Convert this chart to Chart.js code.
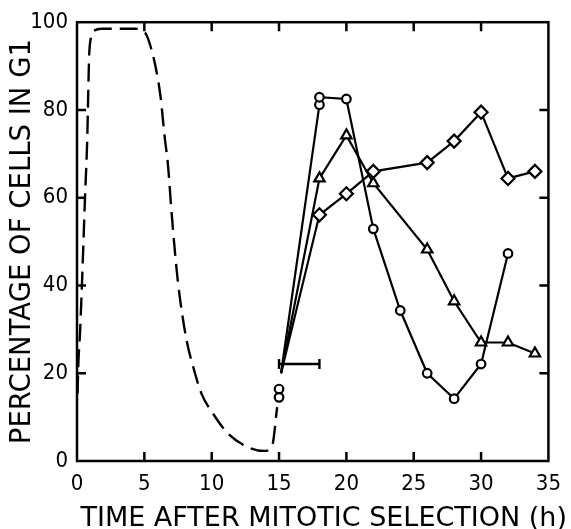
<!DOCTYPE html>
<html>
<head>
<meta charset="utf-8">
<script src="https://cdn.jsdelivr.net/npm/chart.js@4/dist/chart.umd.min.js"></script>
<style>
  html, body { margin: 0; padding: 0; background: #fff; }
  #wrap { width: 571px; height: 529px; }
</style>
</head>
<body>
<div id="wrap"><canvas id="c" width="571" height="529"></canvas></div>
<script>
// ---- data ----
const xTicks = [0, 5, 10, 15, 20, 25, 30, 35];
const yTicks = [0, 20, 40, 60, 80, 100];

// dashed curve (first cycle)
const curveX = [0.04, 0.1, 0.23, 0.42, 0.59, 0.76, 0.83, 0.9, 1.0, 1.3, 1.8, 3.0, 4.37, 4.85, 5.1, 5.47, 5.83, 6.2, 6.5, 6.76, 7.0, 7.25, 7.49, 7.78, 8.15, 8.64, 9.25, 10.1, 11.2, 12.66, 13.9, 14.5, 14.86];
const curveY = [15.4, 22.1, 29.6, 44.7, 59.7, 73.3, 83.1, 92.1, 95.9, 98.1, 98.5, 98.5, 98.5, 97.8, 97.4, 94.4, 89.9, 83.1, 74.1, 67.3, 57.5, 48.4, 40.9, 34.1, 27.3, 21.3, 15.3, 10.8, 6.3, 3.2, 2.3, 3.6, 12.3];

// circles
const circleX = [15.15, 18, 18, 20, 22, 24, 26, 28, 30, 32];
const circleY = [20, 81.2, 82.9, 82.5, 52.9, 34.3, 20.0, 14.2, 22.1, 47.3];
// isolated circles at 15 h
const circle15X = [15, 15];
const circle15Y = [16.4, 14.5];

// triangles
const triangleX = [15.15, 18, 20, 22, 26, 28, 30, 32, 34];
const triangleY = [20, 64.4, 74.2, 63.3, 48.2, 36.4, 27.0, 27.0, 24.5];

// diamonds
const diamondX = [15.15, 18, 20, 22, 26, 28, 30, 32, 34];
const diamondY = [20, 56.1, 60.9, 66.0, 68.0, 72.9, 79.5, 64.4, 66.0];

// horizontal bar
const barX = [15, 18];
const barY = [22.1, 22.1];

const xTitle = 'TIME AFTER MITOTIC SELECTION (h)';
const yTitle = 'PERCENTAGE OF CELLS IN G1';

// ---- build ----
const pts = (xs, ys) => xs.map((x, i) => ({ x, y: ys[i] }));
const hideFirst = (xs, r) => xs.map((_, i) => i === 0 ? 0 : r);

const tickFont = { family: "'Liberation Sans Narrow', 'DejaVu Sans Condensed', sans-serif", size: 22 };
const titleFontY = { family: "'DejaVu Sans', sans-serif", size: 27.5, lineHeight: 1.0 };

const frameAndTicks = {
  id: 'frameAndTicks',
  beforeDatasetsDraw(chart) {
    const { ctx, chartArea: a, scales: { x, y } } = chart;
    ctx.save();
    ctx.strokeStyle = '#000';
    ctx.lineWidth = 2.5;
    ctx.strokeRect(a.left, a.top, a.right - a.left, a.bottom - a.top);
    const L = 9;
    ctx.beginPath();
    xTicks.slice(1, -1).forEach(v => {
      const px = x.getPixelForValue(v);
      ctx.moveTo(px, a.bottom); ctx.lineTo(px, a.bottom - L);
      ctx.moveTo(px, a.top); ctx.lineTo(px, a.top + L);
    });
    yTicks.slice(1, -1).forEach(v => {
      const py = y.getPixelForValue(v);
      ctx.moveTo(a.left, py); ctx.lineTo(a.left + L, py);
      ctx.moveTo(a.right, py); ctx.lineTo(a.right - L, py);
    });
    ctx.stroke();
    ctx.restore();
  },
  afterDraw(chart) {
    // x-axis title, wider than the plot area as in the reference
    const { ctx, chartArea: a } = chart;
    ctx.save();
    ctx.fillStyle = '#000';
    ctx.font = "27px 'DejaVu Sans', sans-serif";
    ctx.textAlign = 'center';
    ctx.textBaseline = 'alphabetic';
    ctx.fillText(xTitle, (a.left + a.right) / 2 + 11, 526);
    ctx.restore();
  }
};

const marker = { borderColor: '#000', backgroundColor: '#fff', pointBorderWidth: 2.2, borderWidth: 2.2 };

new Chart(document.getElementById('c'), {
  type: 'scatter',
  data: {
    datasets: [
      {
        label: 'curve', data: pts(curveX, curveY), showLine: true,
        borderColor: '#000', borderWidth: 2.4, borderDash: [18, 8],
        pointRadius: 0, cubicInterpolationMode: 'monotone', fill: false
      },
      {
        label: 'bar', data: pts(barX, barY), showLine: true,
        borderColor: '#000', borderWidth: 2.4, pointStyle: 'line', pointRotation: 90,
        pointRadius: 5, pointBorderWidth: 2.4, pointBorderColor: '#000'
      },
      Object.assign({
        label: 'diamonds', data: pts(diamondX, diamondY), showLine: true,
        pointStyle: 'rectRot', pointRadius: hideFirst(diamondX, 6.5)
      }, marker),
      Object.assign({
        label: 'triangles', data: pts(triangleX, triangleY), showLine: true,
        pointStyle: 'triangle', pointRadius: hideFirst(triangleX, 6)
      }, marker),
      Object.assign({
        label: 'circles', data: pts(circleX, circleY), showLine: true,
        pointStyle: 'circle', pointRadius: hideFirst(circleX, 4.3)
      }, marker),
      Object.assign({
        label: 'circles15', data: pts(circle15X, circle15Y), showLine: false,
        pointStyle: 'circle', pointRadius: 4.3
      }, marker)
    ]
  },
  options: {
    responsive: false,
    animation: false,
    layout: { padding: { left: 0, right: 16, top: 18, bottom: 0 } },
    plugins: { legend: { display: false }, tooltip: { enabled: false } },
    elements: { line: { tension: 0 } },
    scales: {
      x: {
        type: 'linear', min: 0, max: 35,
        afterFit(s) { s.height = 68; },
        grid: { display: false, drawTicks: false },
        border: { display: false },
        ticks: { stepSize: 5, color: '#000', font: tickFont, padding: 10, maxRotation: 0, autoSkip: false },
        title: { display: false }
      },
      y: {
        type: 'linear', min: 0, max: 100,
        afterFit(s) { s.width = 77; },
        grid: { display: false, drawTicks: false },
        border: { display: false },
        ticks: { stepSize: 20, color: '#000', font: tickFont, padding: 9 },
        title: { display: true, text: yTitle, color: '#000', font: titleFontY, padding: { top: 9, bottom: 0 } }
      }
    }
  },
  plugins: [frameAndTicks]
});
</script>
</body>
</html>
